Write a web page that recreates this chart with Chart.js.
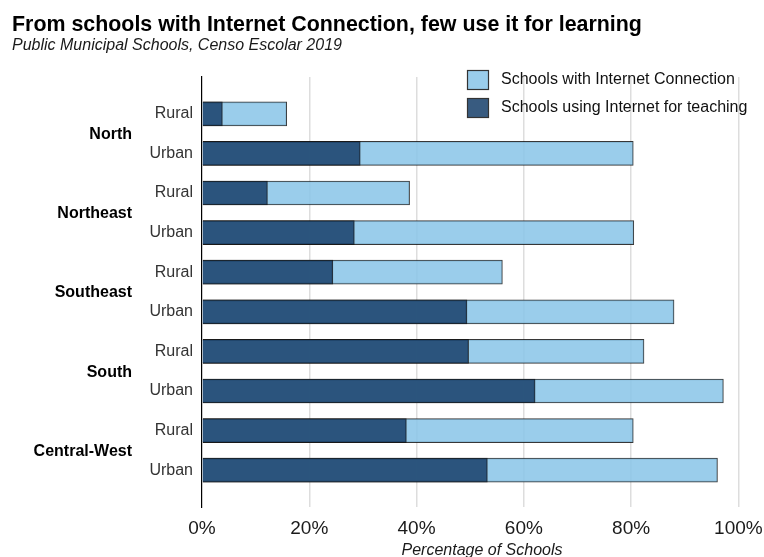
<!DOCTYPE html>
<html><head><meta charset="utf-8">
<script src="https://cdn.jsdelivr.net/npm/chart.js@4/dist/chart.umd.min.js"></script>
<style>html,body{margin:0;padding:0;background:#fff;}#wrap{width:764px;height:557px;}</style>
</head><body><div id="wrap"><canvas id="c" width="764" height="557"></canvas></div>
<script>
const regions = ['North', 'Northeast', 'Southeast', 'South', 'Central-West'];
const areaLabels = ['Rural', 'Urban', 'Rural', 'Urban', 'Rural', 'Urban', 'Rural', 'Urban', 'Rural', 'Urban'];
const withInternet = [15.8, 80.4, 38.7, 80.5, 56.0, 88.0, 82.4, 97.2, 80.4, 96.1];
const usingForTeaching = [3.8, 29.5, 12.2, 28.4, 24.4, 49.4, 49.7, 62.1, 38.1, 53.2];
const xTicks = [0, 20, 40, 60, 80, 100];
const seriesNames = ['Schools with Internet Connection', 'Schools using Internet for teaching'];
const titleText = 'From schools with Internet Connection, few use it for learning';
const subtitleText = 'Public Municipal Schools, Censo Escolar 2019';
const xTitle = 'Percentage of Schools';

const FONT = "'Liberation Sans', Arial, sans-serif";
const lightFill = 'rgba(140,198,232,0.88)';
const darkFill = 'rgba(28,68,110,0.88)';
const edge = 'rgba(20,20,20,0.85)';

const decor = {
  id: 'decor',
  afterDraw(chart) {
    const ctx = chart.ctx;
    const y = chart.scales.y;
    ctx.save();
    ctx.fillStyle = '#000';
    ctx.textAlign = 'left';
    ctx.textBaseline = 'alphabetic';
    ctx.font = 'bold 21.4px ' + FONT;
    ctx.fillText(titleText, 12, 31);
    ctx.font = 'italic 16px ' + FONT;
    ctx.fillStyle = '#1a1a1a';
    ctx.fillText(subtitleText, 12, 50);
    ctx.font = 'bold 16px ' + FONT;
    ctx.fillStyle = '#000';
    ctx.textAlign = 'right';
    ctx.textBaseline = 'middle';
    regions.forEach((r, g) => {
      const py = (y.getPixelForValue(2 * g) + y.getPixelForValue(2 * g + 1)) / 2;
      ctx.fillText(r, 132, py + 1);
    });
    ctx.font = 'italic 16px ' + FONT;
    ctx.fillStyle = '#1a1a1a';
    ctx.textAlign = 'center';
    ctx.textBaseline = 'alphabetic';
    ctx.fillText(xTitle, (chart.chartArea.left + chart.chartArea.right) / 2, 555);
    const fills = [lightFill, darkFill];
    const boxTop = [70, 98];
    ctx.font = '16px ' + FONT;
    ctx.textAlign = 'left';
    ctx.textBaseline = 'middle';
    for (let i = 0; i < 2; i++) {
      ctx.fillStyle = '#fff';
      ctx.fillRect(467, boxTop[i], 21, 19);
      ctx.fillStyle = fills[i];
      ctx.fillRect(467, boxTop[i], 21, 19);
      ctx.strokeStyle = '#333';
      ctx.lineWidth = 1.2;
      ctx.strokeRect(467.5, boxTop[i] + 0.5, 21, 19);
      ctx.fillStyle = '#111';
      ctx.fillText(seriesNames[i], 501, boxTop[i] + 10);
    }
    ctx.restore();
  }
};

new Chart(document.getElementById('c'), {
  type: 'bar',
  data: {
    datasets: [
      {
        label: seriesNames[0],
        data: withInternet.map((v, i) => ({ x: v, y: i })),
        backgroundColor: lightFill,
        borderColor: edge,
        borderWidth: 1,
        barThickness: 24,
        grouped: false,
        order: 1
      },
      {
        label: seriesNames[1],
        data: usingForTeaching.map((v, i) => ({ x: v, y: i })),
        backgroundColor: darkFill,
        borderColor: edge,
        borderWidth: 1,
        barThickness: 24,
        grouped: false,
        order: 0
      }
    ]
  },
  options: {
    indexAxis: 'y',
    responsive: false,
    animation: false,
    devicePixelRatio: 1,
    layout: { padding: { left: 0, top: 77, right: 2, bottom: 0 } },
    plugins: { legend: { display: false }, tooltip: { enabled: false }, title: { display: false } },
    scales: {
      x: {
        type: 'linear',
        min: 0,
        max: 104.4,
        offset: false,
        afterBuildTicks: s => { s.ticks = xTicks.map(v => ({ value: v })); },
        afterFit: s => { s.height = 50; s.paddingLeft = 0; s.paddingRight = 0; },
        grid: {
          color: c => (c.tick && c.tick.value === 0) ? 'rgba(0,0,0,0)' : '#dddddd',
          lineWidth: 1.5,
          drawTicks: false,
          offset: false
        },
        border: { display: false },
        ticks: {
          callback: v => v + '%',
          font: { family: FONT, size: 19 },
          color: '#1a1a1a',
          padding: 10,
          maxRotation: 0,
          autoSkip: false
        }
      },
      y: {
        type: 'linear',
        reverse: true,
        min: -0.93,
        max: 9.93,
        offset: false,
        afterBuildTicks: s => { s.ticks = areaLabels.map((_, i) => ({ value: i })); },
        afterFit: s => { s.width = 202; s.paddingTop = 0; s.paddingBottom = 0; },
        grid: { display: false, drawTicks: false, offset: false },
        border: { display: true, color: '#000', width: 1.2 },
        ticks: {
          callback: v => areaLabels[v],
          font: { family: FONT, size: 16 },
          color: '#333',
          padding: 9,
          autoSkip: false
        }
      }
    }
  },
  plugins: [decor]
});
</script></body></html>
